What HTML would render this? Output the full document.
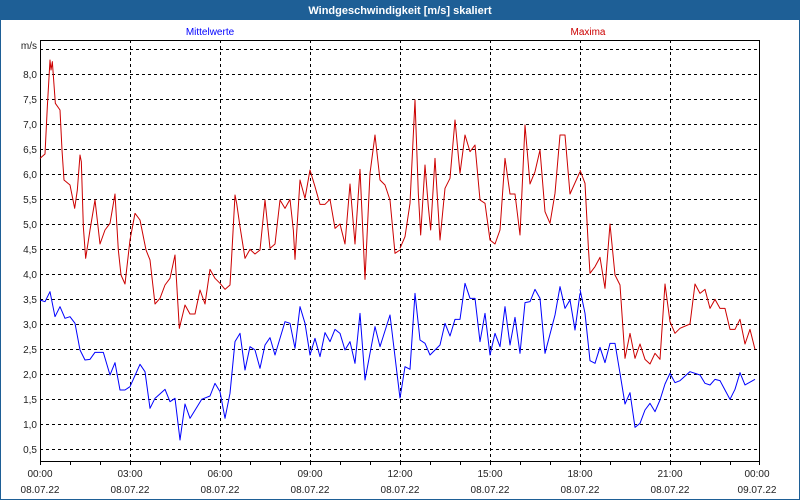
<!DOCTYPE html>
<html><head><meta charset="utf-8"><style>
html,body{margin:0;padding:0;background:#fff;}
svg{display:block;font-family:"Liberation Sans",sans-serif;}
</style></head><body>
<svg width="800" height="500" viewBox="0 0 800 500" xmlns="http://www.w3.org/2000/svg">
<rect x="0" y="0" width="800" height="500" fill="#fff"/>
<rect x="0.5" y="0.5" width="799" height="499" fill="none" stroke="#1e5f96" stroke-width="1"/>
<rect x="0" y="0" width="800" height="20" fill="#1e5f96"/>
<text x="400" y="14" fill="#fff" font-size="11" font-weight="bold" text-anchor="middle">Windgeschwindigkeit [m/s] skaliert</text>
<text x="210" y="35" fill="#0000ff" font-size="10" text-anchor="middle">Mittelwerte</text>
<text x="588" y="35" fill="#cc0000" font-size="10" text-anchor="middle">Maxima</text>
<text x="37" y="49" font-size="10" text-anchor="end" fill="#222">m/s</text>
<g stroke="#000" stroke-width="1" stroke-dasharray="3,3" fill="none">
<path d="M40 49.5H760M40 74.5H760M40 99.5H760M40 124.5H760M40 149.5H760M40 174.5H760M40 199.5H760M40 224.5H760M40 249.5H760M40 274.5H760M40 299.5H760M40 324.5H760M40 349.5H760M40 374.5H760M40 399.5H760M40 424.5H760M40 449.5H760"/>
<path d="M130.5 40V461M220.5 40V461M310.5 40V461M400.5 40V461M490.5 40V461M580.5 40V461M670.5 40V461"/>
</g>
<g font-size="10" text-anchor="end" fill="#222">
<text x="37" y="78">8,0</text><text x="37" y="103">7,5</text><text x="37" y="128">7,0</text><text x="37" y="153">6,5</text><text x="37" y="178">6,0</text><text x="37" y="203">5,5</text><text x="37" y="228">5,0</text><text x="37" y="253">4,5</text><text x="37" y="278">4,0</text><text x="37" y="303">3,5</text><text x="37" y="328">3,0</text><text x="37" y="353">2,5</text><text x="37" y="378">2,0</text><text x="37" y="403">1,5</text><text x="37" y="428">1,0</text><text x="37" y="453">0,5</text>
</g>
<g stroke="#000" stroke-width="1">
<path d="M40.5 40V462M759.5 40V462M40 40.5H760M40 461.5H760" fill="none"/>
<path d="M40.5 461V465M70.5 461V465M100.5 461V465M130.5 461V465M160.5 461V465M190.5 461V465M220.5 461V465M250.5 461V465M280.5 461V465M310.5 461V465M340.5 461V465M370.5 461V465M400.5 461V465M430.5 461V465M460.5 461V465M490.5 461V465M520.5 461V465M550.5 461V465M580.5 461V465M610.5 461V465M640.5 461V465M670.5 461V465M700.5 461V465M730.5 461V465M759.5 461V465"/>
</g>
<g font-size="10" text-anchor="middle" fill="#222">
<text x="40" y="477">00:00</text><text x="40" y="493">08.07.22</text>
<text x="130" y="477">03:00</text><text x="130" y="493">08.07.22</text>
<text x="220" y="477">06:00</text><text x="220" y="493">08.07.22</text>
<text x="310" y="477">09:00</text><text x="310" y="493">08.07.22</text>
<text x="400" y="477">12:00</text><text x="400" y="493">08.07.22</text>
<text x="490" y="477">15:00</text><text x="490" y="493">08.07.22</text>
<text x="580" y="477">18:00</text><text x="580" y="493">08.07.22</text>
<text x="670" y="477">21:00</text><text x="670" y="493">08.07.22</text>
<text x="757" y="477">00:00</text><text x="757" y="493">09.07.22</text>
</g>
<g fill="none" stroke-width="1" stroke-linejoin="round">
<g transform="translate(40,40) scale(0.33333)">
<polyline vector-effect="non-scaling-stroke" stroke="#cc0000" points="0,355 15,342 22,200 30,60 33,90 37,65 46,190 60,210 66,330 72,420 90,435 104,505 112,450 120,345 124,365 130,560 137,655 150,570 165,480 180,612 195,570 210,550 225,462 235,630 243,705 255,732 270,600 285,520 300,540 318,630 330,660 345,792 360,775 375,735 390,715 405,645 418,865 435,795 450,822 465,822 480,750 495,792 510,688 525,715 540,730"/>
<polyline vector-effect="non-scaling-stroke" stroke="#0000ff" points="0,780 15,785 30,755 45,830 60,800 75,835 90,830 105,850 120,930 135,960 150,958 165,937 190,937 210,1005 225,968 240,1050 255,1050 270,1040 300,973 315,995 330,1105 345,1075 375,1048 390,1085 405,1075 420,1200 435,1092 450,1135 485,1078 510,1068 525,1030 540,1055"/>
</g>
<g transform="translate(220,40) scale(0.33333)">
<polyline vector-effect="non-scaling-stroke" stroke="#cc0000" points="0,730 15,748 30,735 35,650 45,465 50,490 60,560 75,655 90,628 105,642 120,630 135,480 150,625 165,612 180,480 195,505 210,478 220,570 225,658 240,420 255,475 270,390 285,440 300,493 315,493 330,478 345,565 360,552 375,612 390,432 405,612 420,388 435,718 450,400 465,285 480,420 495,435 510,480 525,640 540,630"/>
<polyline vector-effect="non-scaling-stroke" stroke="#0000ff" points="0,1055 15,1135 30,1060 45,905 60,880 75,990 90,920 105,930 120,985 135,915 150,893 165,945 195,845 210,850 225,925 240,800 255,850 270,945 285,895 300,950 315,878 330,905 345,868 360,880 375,930 390,905 405,970 420,820 435,1020 450,940 465,860 480,920 510,825 540,1075"/>
</g>
<g transform="translate(400,40) scale(0.33333)">
<polyline vector-effect="non-scaling-stroke" stroke="#cc0000" points="0,625 15,590 30,490 45,180 55,460 62,585 75,375 85,500 92,570 105,355 120,600 135,445 150,415 165,240 180,400 195,285 210,335 225,315 240,480 255,490 270,600 285,612 300,570 315,355 330,462 345,462 360,585 375,255 390,432 405,395 420,330 435,515 450,550 465,460 480,285 495,285 510,462 540,395"/>
<polyline vector-effect="non-scaling-stroke" stroke="#0000ff" points="0,1075 15,980 30,988 45,760 60,900 75,910 90,945 120,915 135,850 150,888 165,838 180,838 195,730 210,775 225,775 240,905 255,820 270,945 285,880 300,920 315,800 330,915 345,832 360,940 375,788 390,785 405,748 420,775 435,940 465,825 480,740 495,805 510,780 525,870 540,760"/>
</g>
<g transform="translate(580,40) scale(0.33333)">
<polyline vector-effect="non-scaling-stroke" stroke="#cc0000" points="0,390 15,430 25,620 30,700 45,680 60,652 75,745 90,552 105,705 120,735 135,955 150,880 165,955 180,912 195,958 210,972 225,940 240,958 255,732 270,845 285,880 300,865 330,852 345,732 360,760 375,748 390,805 405,778 420,805 435,805 450,868 465,868 480,838 495,912 510,868 525,928"/>
<polyline vector-effect="non-scaling-stroke" stroke="#0000ff" points="0,748 15,820 30,962 45,970 60,922 75,968 90,910 105,910 120,1000 135,1092 150,1058 165,1162 180,1150 195,1110 210,1090 225,1115 240,1080 255,1032 270,1000 285,1028 300,1022 330,995 360,1005 375,1030 390,1035 405,1018 420,1022 450,1078 465,1048 480,998 495,1035 525,1018"/>
</g>
</g>
</svg>
</body></html>
